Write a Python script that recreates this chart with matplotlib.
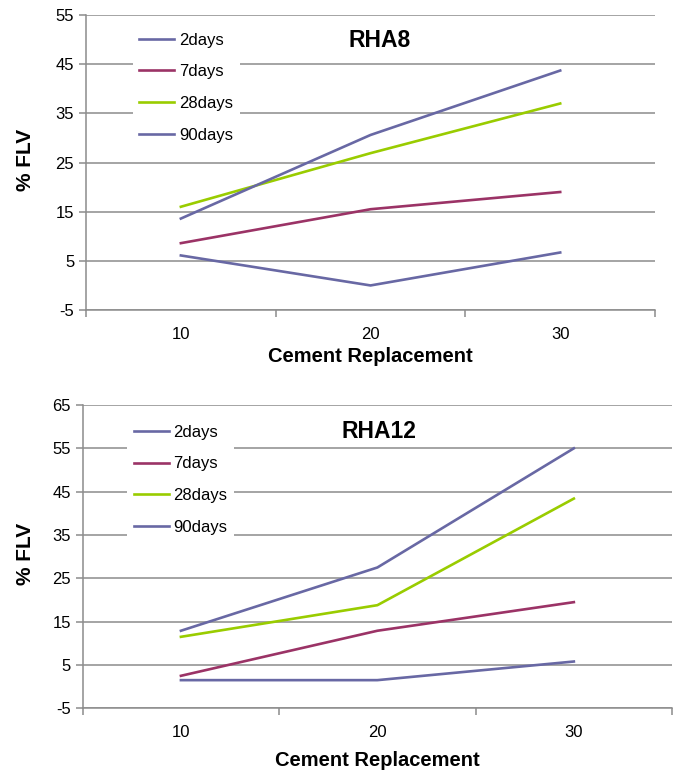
import matplotlib.pyplot as plt

plt.rcParams["font.family"] = ["Liberation Sans", "DejaVu Sans"]
plt.rcParams["axes.unicode_minus"] = False

# Cement replacement levels (%)
replacement = ["10", "20", "30"]
ages = ["2days", "7days", "28days", "90days"]

# %FLV for RHA8
rha8_2days = [6.1, 0.0, 6.7]
rha8_7days = [8.6, 15.5, 19.0]
rha8_28days = [16.0, 26.9, 37.0]
rha8_90days = [13.6, 30.6, 43.7]

# %FLV for RHA12
rha12_2days = [1.5, 1.5, 5.8]
rha12_7days = [2.5, 12.9, 19.5]
rha12_28days = [11.5, 18.8, 43.4]
rha12_90days = [12.9, 27.5, 55.0]

colors = ["#6868a4", "#9b3366", "#99cc00", "#6868a4"]
grid_color = "#8c8c8c"


def draw(ax, series, title, yticks, title_pos, legend_pos, ylabel_x, xlabel_pad):
    x = range(len(replacement))
    for vals, name, c in zip(series, ages, colors):
        ax.plot(x, vals, color=c, lw=1.9, label=name, zorder=3)

    ax.set_xlim(-0.5, len(replacement) - 0.5)
    ax.set_ylim(yticks[0], yticks[-1])
    ax.set_yticks(yticks)
    ax.yaxis.grid(True, color=grid_color, lw=1.1)
    ax.set_axisbelow(True)

    # category boundaries carry the tick marks, labels sit in the middle
    ax.set_xticks([i - 0.5 for i in range(len(replacement) + 1)])
    ax.set_xticklabels([])
    ax.set_xticks(list(x), minor=True)
    ax.set_xticklabels(replacement, minor=True, fontsize=12)
    ax.tick_params(axis="x", which="major", length=5, width=1.1, color=grid_color)
    ax.tick_params(axis="x", which="minor", length=0, pad=12)
    ax.tick_params(axis="y", length=5, width=1.1, color=grid_color, labelsize=12)

    for s in ("top", "right"):
        ax.spines[s].set_visible(False)
    for s in ("left", "bottom"):
        ax.spines[s].set_color(grid_color)
        ax.spines[s].set_linewidth(1.1)

    ax.set_xlabel("Cement Replacement", fontsize=14.5, fontweight="bold",
                  labelpad=xlabel_pad)
    ax.set_ylabel("% FLV", fontsize=15, fontweight="bold")
    ax.yaxis.set_label_coords(ylabel_x, 0.51)
    ax.text(title_pos[0], title_pos[1], title, transform=ax.transAxes,
            fontsize=16.5, fontweight="bold", va="center", ha="left")

    leg = ax.legend(loc="upper left", bbox_to_anchor=legend_pos,
                    borderaxespad=0, frameon=True, fancybox=False,
                    fontsize=12, handlelength=2.1, handletextpad=0.3,
                    labelspacing=1.0, borderpad=0.4)
    leg.get_frame().set_facecolor("white")
    leg.get_frame().set_edgecolor("none")
    leg.get_frame().set_alpha(1)


fig = plt.figure(figsize=(6.79, 7.72), dpi=100)
ax1 = fig.add_axes([0.1267, 0.5984, 0.838, 0.3822])
ax2 = fig.add_axes([0.1218, 0.0825, 0.868, 0.3929])

draw(ax1, [rha8_2days, rha8_7days, rha8_28days, rha8_90days], "RHA8",
     [-5, 5, 15, 25, 35, 45, 55], (0.462, 0.915), (0.082, 0.963), -0.089, 4)
draw(ax2, [rha12_2days, rha12_7days, rha12_28days, rha12_90days], "RHA12",
     [-5, 5, 15, 25, 35, 45, 55, 65], (0.4395, 0.912), (0.075, 0.957), -0.081, 8)

fig.savefig("out.png", dpi=100)
